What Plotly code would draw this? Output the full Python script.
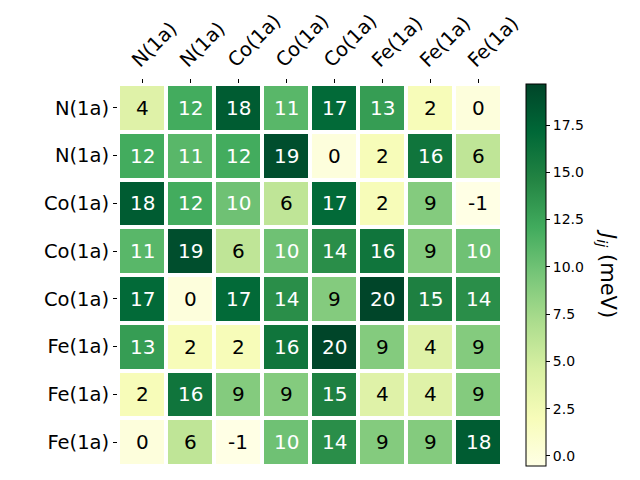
import plotly.graph_objects as go

labels = ["N(1a)", "N(1a)", "Co(1a)", "Co(1a)", "Co(1a)", "Fe(1a)", "Fe(1a)", "Fe(1a)"]

J = [
    [4, 12, 18, 11, 17, 13, 2, 0],
    [12, 11, 12, 19, 0, 2, 16, 6],
    [18, 12, 10, 6, 17, 2, 9, -0.53],
    [11, 19, 6, 10, 14, 16, 9, 10],
    [17, 0, 17, 14, 9, 19.67, 15, 14],
    [13, 2, 2, 16, 19.67, 9, 4, 9],
    [2, 16, 9, 9, 15, 4, 4, 9],
    [0, 6, -0.53, 10, 14, 9, 9, 18],
]

cbar_ticks = [0.0, 2.5, 5.0, 7.5, 10.0, 12.5, 15.0, 17.5]

zmin = min(min(r) for r in J)
zmax = max(max(r) for r in J)
threshold = zmax / 2.0

n = len(labels)
W, H = 640, 480
FONT = "DejaVu Sans"

# plot area in pixels
L, R, T, B = 118, 502, 84, 466
PW = R - L
PH = B - T

fig = go.Figure()
fig.add_trace(go.Heatmap(
    z=J,
    x=list(range(n)),
    y=list(range(n)),
    colorscale="YlGn",
    zmin=zmin,
    zmax=zmax,
    xgap=4,
    ygap=4,
    showscale=True,
    hoverinfo="skip",
    colorbar=dict(
        x=(526 - L) / PW, xanchor="left", xref="paper",
        y=0, yanchor="bottom", yref="paper",
        len=1, lenmode="fraction",
        thickness=20, thicknessmode="pixels",
        outlinewidth=1, outlinecolor="black",
        tickvals=cbar_ticks,
        ticktext=[f"{t:.1f}" for t in cbar_ticks],
        ticks="outside", ticklen=4, tickcolor="black",
        tickfont=dict(family=FONT, size=14, color="black"),
        xpad=0, ypad=0,
    ),
))

annotations = []
for i in range(n):
    for j in range(n):
        v = J[i][j]
        annotations.append(dict(
            x=j, y=i, xref="x", yref="y",
            text=f"{v:.0f}", showarrow=False,
            font=dict(family=FONT, size=20,
                      color="white" if v > threshold else "black"),
        ))

annotations.append(dict(
    x=(607 - L) / PW, y=(B - 273) / PH, xref="paper", yref="paper",
    xanchor="center", yanchor="middle",
    text="<i>J</i><sub><i>ij</i></sub> (meV)", showarrow=False,
    textangle=90, font=dict(family=FONT, size=21, color="black"),
))

fig.update_layout(
    width=W, height=H,
    margin=dict(l=L, r=W - R, t=T, b=H - B, autoexpand=False),
    paper_bgcolor="white",
    plot_bgcolor="white",
    annotations=annotations,
    xaxis=dict(
        domain=[0, 1],
        range=[-0.5, n - 0.5],
        side="top",
        tickvals=list(range(n)),
        ticktext=labels,
        tickangle=-45,
        ticklabelshift=-9,
        ticks="outside", ticklen=4, tickcolor="black",
        tickfont=dict(family=FONT, size=19.5, color="black"),
        showgrid=False, zeroline=False, showline=False,
        automargin=False,
    ),
    yaxis=dict(
        domain=[0, 1],
        range=[n - 0.5, -0.5],
        tickvals=list(range(n)),
        ticktext=labels,
        ticks="outside", ticklen=4, tickcolor="black",
        tickfont=dict(family=FONT, size=19.5, color="black"),
        showgrid=False, zeroline=False, showline=False,
        automargin=False,
    ),
)

fig.write_html("out.html")
